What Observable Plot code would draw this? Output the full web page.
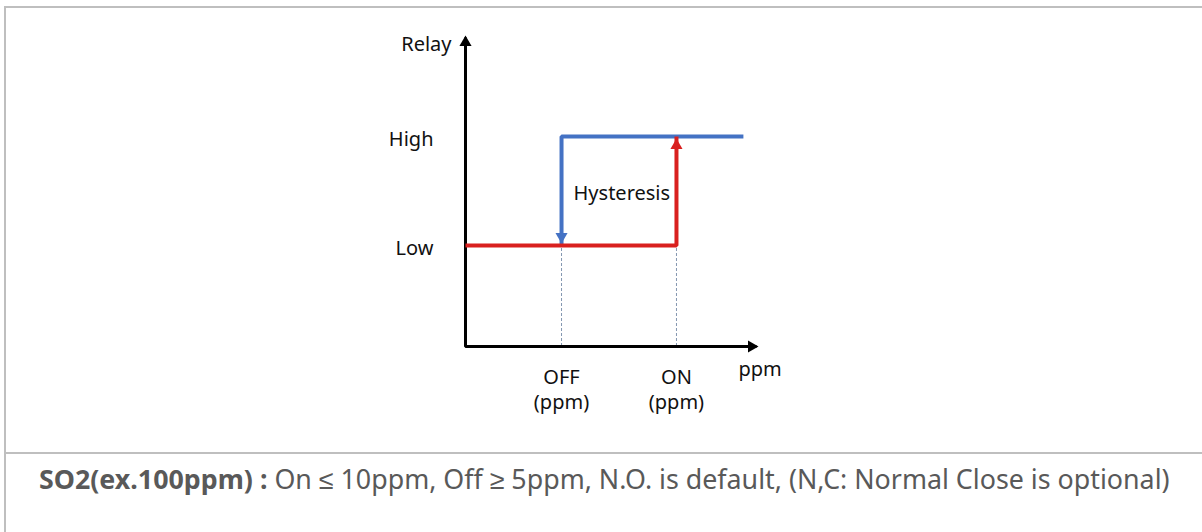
<!DOCTYPE html>
<html>
<head>
<meta charset="utf-8">
<script src="https://cdn.jsdelivr.net/npm/d3@7"></script>
<script src="https://cdn.jsdelivr.net/npm/@observablehq/plot@0.6"></script>
<style>
  html, body { margin: 0; padding: 0; background: #fff; }
  #wrap { position: relative; width: 1202px; height: 532px; overflow: hidden; }
  #chart { position: absolute; left: 0; top: 0; }
  .rule { position: absolute; background: #bfbfbf; }
  #caption { position: absolute; left: 39px; top: 466px; font-family: "Noto Sans", sans-serif; font-size: 26.8px; line-height: 26.8px; color: #595959; white-space: nowrap; }
  #caption b { font-weight: 700; }
</style>
</head>
<body>
<div id="wrap">
  <div id="chart"></div>
  <div class="rule" style="left:4px;top:6px;width:1300px;height:2px"></div>
  <div class="rule" style="left:4px;top:6px;width:2px;height:600px"></div>
  <div class="rule" style="left:4px;top:452px;width:1300px;height:2px"></div>
  <div id="caption"></div>
</div>
<script>
// ---- data ----
const levelNames = ["Low", "High"];
const levelValues = [1, 2.08];
const thresholdNames = ["OFF", "ON"];
const thresholdValues = [3.3, 7.25];
const thresholdUnits = ["(ppm)", "(ppm)"];
const highLineEnd = 9.55;
const axisXMax = 10;
const axisYMax = 3.06;
const axisXLabel = "ppm";
const axisYLabel = "Relay";
const hysteresisLabel = "Hysteresis";
const captionBold = "SO2(ex.100ppm) :";
const captionRest = " On \u2264 10ppm, Off \u2265 5ppm, N.O. is default, (N,C: Normal Close is optional)";

// ---- derived ----
const LOW = levelValues[0], HIGH = levelValues[1];
const OFF = thresholdValues[0], ON = thresholdValues[1];
const fallingPath = [[highLineEnd, HIGH], [OFF, HIGH], [OFF, LOW]];
const risingPath = [[0, LOW], [ON, LOW], [ON, HIGH]];
const axisPath = [[0, axisYMax], [0, 0], [axisXMax, 0]];
const levels = levelNames.map((n, i) => ({name: n, y: levelValues[i]}));
const thresholds = thresholdNames.map((n, i) => ({name: n, unit: thresholdUnits[i], x: thresholdValues[i]}));

const BLUE = "#4472C4", RED = "#D9201F", INK = "#111";
const FONT = "'Noto Sans', sans-serif";

const chart = Plot.plot({
  width: 1202,
  height: 452,
  marginLeft: 465,
  marginRight: 446,
  marginTop: 37,
  marginBottom: 106,
  x: {domain: [0, axisXMax], axis: null},
  y: {domain: [0, axisYMax], axis: null},
  style: {fontFamily: FONT, fontSize: "20px", background: "transparent", overflow: "visible"},
  marks: [
    // dashed guides
    Plot.ruleX(thresholds, {x: "x", y1: 0, y2: LOW, stroke: "#8497B0", strokeWidth: 1, strokeDasharray: "3,2"}),
    // axes
    Plot.line(axisPath, {stroke: "#000", strokeWidth: 3, strokeLinejoin: "miter", strokeLinecap: "butt"}),
    Plot.dot([[0, axisYMax]], {symbol: "triangle", r: 4.5, fill: "#000", stroke: "none", dy: 5}),
    Plot.dot([[axisXMax, 0]], {symbol: "triangle", r: 4.5, fill: "#000", stroke: "none", rotate: 90, dx: -5}),
    // falling (blue) path
    Plot.line(fallingPath, {stroke: BLUE, strokeWidth: 4, strokeLinejoin: "miter", strokeLinecap: "butt"}),
    // rising (red) path
    Plot.line(risingPath, {stroke: RED, strokeWidth: 4, strokeLinejoin: "miter", strokeLinecap: "butt"}),
    Plot.dot([[OFF, LOW]], {symbol: "triangle", r: 4.5, fill: BLUE, stroke: "none", rotate: 180, dy: -9}),
    Plot.dot([[ON, HIGH]], {symbol: "triangle", r: 4.5, fill: RED, stroke: "none", dy: 9}),
    // labels
    Plot.text([axisYLabel], {x: 0, y: axisYMax, text: d => d, textAnchor: "end", dx: -14, dy: 6.6, fill: INK}),
    Plot.text(levels, {x: 0, y: "y", text: "name", textAnchor: "end", dx: -32, dy: 3, fill: INK}),
    Plot.text([hysteresisLabel], {x: OFF, y: (LOW + HIGH) / 2, text: d => d, textAnchor: "start", dx: 12, dy: 3, fill: INK}),
    Plot.text(thresholds, {x: "x", y: 0, text: "name", dy: 31, fill: INK}),
    Plot.text(thresholds, {x: "x", y: 0, text: "unit", dy: 56, fill: INK}),
    Plot.text([axisXLabel], {x: axisXMax, y: 0, text: d => d, textAnchor: "start", dx: -18, dy: 23, fill: INK})
  ]
});
document.getElementById("chart").appendChild(chart);

const cap = document.getElementById("caption");
const b = document.createElement("b");
b.textContent = captionBold;
cap.appendChild(b);
cap.appendChild(document.createTextNode(captionRest));
</script>
</body>
</html>
